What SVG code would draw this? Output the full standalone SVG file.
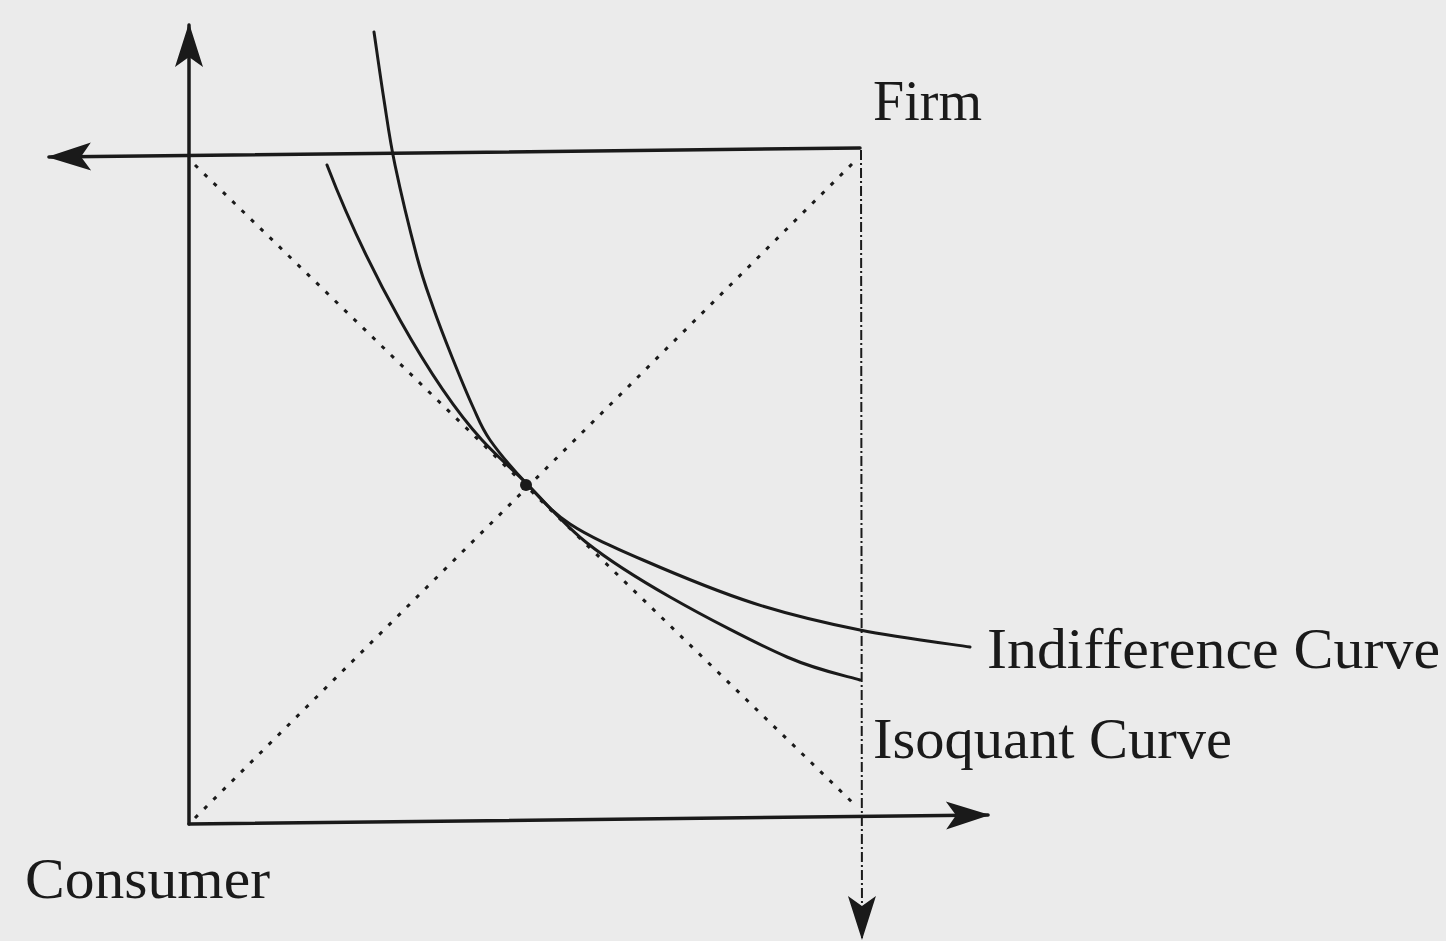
<svg xmlns="http://www.w3.org/2000/svg" width="1446" height="941" viewBox="0 0 1446 941">
<style>
.ax{stroke:#1a1a1a;stroke-width:3.5;fill:none;stroke-linecap:round}
.dash{stroke:#1a1a1a;stroke-width:2;fill:none;stroke-dasharray:10 3 2 3}
.dot{stroke:#1a1a1a;stroke-width:3;fill:none;stroke-dasharray:4 9}
.crv{stroke:#1a1a1a;stroke-width:3;fill:none;stroke-linecap:round;stroke-linejoin:round}
.lbl{font-family:"Liberation Serif","Times New Roman",serif;font-size:58px;fill:#1a1a1a}
</style>
<defs>
<marker id="ah" markerUnits="userSpaceOnUse" markerWidth="50" markerHeight="34" viewBox="-46 -17 50 34" refX="0" refY="0" orient="auto">
<path d="M2,0 L-42,-14 L-32,0 L-42,14 Z" fill="#1a1a1a"/>
</marker>
</defs>
<rect width="1446" height="941" fill="#ebebeb"/>
<g id="connectors">
<line id="consumer-y" class="ax" x1="189" y1="824" x2="189" y2="25" marker-end="url(#ah)"/>
<line id="consumer-x" class="ax" x1="189" y1="824" x2="988" y2="815" marker-end="url(#ah)"/>
<line id="firm-x" class="ax" x1="860" y1="148" x2="49" y2="157" marker-end="url(#ah)"/>
<line id="firm-y" class="dash" x1="861" y1="150" x2="862" y2="938" marker-end="url(#ah)"/>
<line id="diag1" class="dot" x1="195" y1="165" x2="855" y2="805"/>
<line id="diag2" class="dot" x1="195" y1="818" x2="858" y2="158"/>
</g>
<g id="indifference-curve">
<path class="crv" d="M374,32 C375.7,43.3 380.5,77.8 384,100 C387.5,122.2 389.5,138.8 395,165 C400.5,191.2 410.7,233.3 417,257 C423.3,280.7 427.2,290.3 433,307 C438.8,323.7 445.3,340.3 452,357 C458.7,373.7 466.7,393.2 473,407 C479.3,420.8 481,427.2 490,440 C499,452.8 513.7,470 527,484 C540.3,498 550.7,511.3 570,524 C589.3,536.7 612.5,546.8 643,560 C673.5,573.2 716.8,591.3 753,603 C789.2,614.7 823.8,622.7 860,630 C896.2,637.3 951.7,644.2 970,647"/>
<text class="lbl" x="987" y="668" textLength="453" lengthAdjust="spacingAndGlyphs">Indifference Curve</text>
</g>
<g id="isoquant-curve">
<path class="crv" d="M327,165 C367,269 430.8,384 482,440 C494.8,454 509.5,466.8 527,484 C544.5,501.2 563.2,524.2 587,543 C610.8,561.8 636.7,578 670,597 C703.3,616 755.3,643.2 787,657 C818.7,670.8 847.8,676.2 860,680"/>
<text class="lbl" x="873" y="758" textLength="359" lengthAdjust="spacingAndGlyphs">Isoquant Curve</text>
</g>
<g id="equilibrium">
<circle cx="526" cy="485" r="6" fill="#1a1a1a"/>
</g>
<g id="firm">
<text class="lbl" x="873" y="120" textLength="109" lengthAdjust="spacingAndGlyphs">Firm</text>
</g>
<g id="consumer">
<text class="lbl" x="25" y="898" textLength="245" lengthAdjust="spacingAndGlyphs">Consumer</text>
</g>
</svg>
